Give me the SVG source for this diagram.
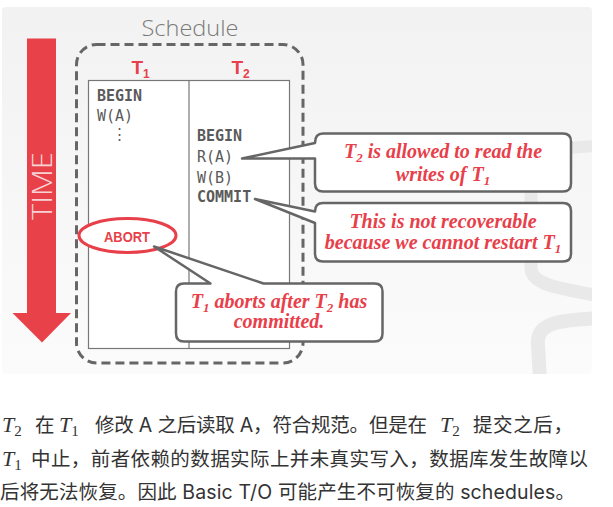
<svg xmlns="http://www.w3.org/2000/svg" width="613" height="507" viewBox="0 0 613 507">
<defs>
<linearGradient id="bg" x1="0" y1="0" x2="0" y2="1">
<stop offset="0" stop-color="#f2f2f2"/>
<stop offset="1" stop-color="#fbfbfb"/>
</linearGradient>
<clipPath id="slideclip"><rect x="2" y="7" width="590" height="367" rx="4"/></clipPath>
<style>
.mono{font-family:"DejaVu Sans Mono","Liberation Mono",monospace;font-size:15px;fill:#5a5a5a}
.b{font-weight:bold}
.tl{font-family:"Liberation Sans",Arial,sans-serif;font-weight:bold;fill:#e8404a}
.call{fill:#ffffff;stroke:#666666;stroke-width:2.5;stroke-linejoin:round}
.ct{font-family:"Liberation Serif","Times New Roman",serif;font-weight:bold;font-style:italic;font-size:20px;fill:#e8404a;text-anchor:middle}
.cjk{font-family:Inter,"Noto Sans CJK SC",sans-serif;font-size:19.5px;fill:#333333}
.math{font-family:"Liberation Serif","Times New Roman",serif;font-style:italic;font-size:22px;fill:#333333}
.msub{font-style:normal;font-size:15px}
</style>
</defs>
<rect x="0" y="0" width="613" height="507" fill="#ffffff"/>
<g id="slide">
<rect x="2" y="7" width="590" height="367" rx="4" fill="url(#bg)"/>
<g clip-path="url(#slideclip)" fill="none" stroke="#e9e9e9">
<path d="M 498 166 C 530 152 565 147 600 146" stroke-width="12"/>
<path d="M 531 192 L 531 268 C 531 284 556 288 600 296" stroke-width="13"/>
<path d="M 600 318 C 560 320 536 322 538 345 L 540 380" stroke-width="14"/>
</g>
</g>
<g id="time-arrow">
<path d="M 27 38.5 H 56 V 313 H 71 L 42 342.5 L 12.5 313 H 27 Z" fill="#e8414a"/>
<text transform="translate(51.5,220) rotate(-90)" font-family="'Open Sans','Liberation Sans',sans-serif" font-weight="300" font-size="28" fill="#f6d2d4" textLength="68" lengthAdjust="spacingAndGlyphs">TIME</text>
</g>
<g id="schedule">
<text x="190" y="36" text-anchor="middle" font-family="'Open Sans','Liberation Sans',sans-serif" font-weight="300" font-size="22" fill="#7a7a7a" textLength="97" lengthAdjust="spacingAndGlyphs">Schedule</text>
<rect x="76.5" y="44.5" width="226.5" height="318.5" rx="20" fill="none" stroke="#666666" stroke-width="3" stroke-dasharray="9 5"/>
</g>
<g id="table">
<rect x="88.5" y="80.5" width="201" height="268" fill="#ffffff" stroke="#777777" stroke-width="1.2"/>
<line x1="189" y1="80.5" x2="189" y2="348.5" stroke="#777777" stroke-width="1.2"/>
<text class="tl" x="131.5" y="74" font-size="19">T<tspan font-size="12" dy="4">1</tspan></text>
<text class="tl" x="231.5" y="74" font-size="19">T<tspan font-size="12" dy="4">2</tspan></text>
</g>
<g id="t1-ops">
<text class="mono b" x="97" y="101">BEGIN</text>
<text class="mono" x="97" y="121">W(A)</text>
<text class="mono" x="112" y="139">⋮</text>
</g>
<g id="t2-ops">
<text class="mono b" x="197" y="141">BEGIN</text>
<text class="mono" x="197" y="162">R(A)</text>
<text class="mono" x="197" y="182.5">W(B)</text>
<text class="mono b" x="197" y="202">COMMIT</text>
</g>
<g id="abort">
<ellipse cx="127.5" cy="235.5" rx="48.5" ry="17" fill="#ffffff" stroke="#e8404a" stroke-width="3"/>
<text x="104" y="242" font-family="'Liberation Sans',Arial,sans-serif" font-weight="bold" font-size="14" fill="#e8404a" textLength="46" lengthAdjust="spacingAndGlyphs">ABORT</text>
</g>
<g id="connectors">
<path class="call" d="M 323 133.5 H 563 Q 571 133.5 571 141.5 V 183.5 Q 571 191.5 563 191.5 H 323 Q 315 191.5 315 183.5 V 158.5 L 242 158.5 L 315 143 Q 315 133.5 323 133.5 Z"/>
<path class="call" d="M 323 203 H 563 Q 571 203 571 211 V 253.5 Q 571 261.5 563 261.5 H 323 Q 315 261.5 315 253.5 V 223 L 255 199 L 315 211.5 Q 315 203 323 203 Z"/>
<path class="call" d="M 184 283.5 H 210.5 L 154 246.5 L 263.5 283.5 H 374.5 Q 382.5 283.5 382.5 291.5 V 333.5 Q 382.5 341.5 374.5 341.5 H 184 Q 176 341.5 176 333.5 V 291.5 Q 176 283.5 184 283.5 Z"/>
</g>
<g id="callout-read">
<text class="ct" x="443" y="158">T<tspan font-size="13" dy="4">2</tspan><tspan dy="-4"> is allowed to read the</tspan></text>
<text class="ct" x="443" y="181">writes of T<tspan font-size="13" dy="4">1</tspan></text>
</g>
<g id="callout-recover">
<text class="ct" x="443" y="228">This is not recoverable</text>
<text class="ct" x="443" y="249">because we cannot restart T<tspan font-size="13" dy="4">1</tspan></text>
</g>
<g id="callout-abort">
<text class="ct" x="279" y="308">T<tspan font-size="13" dy="4">1</tspan><tspan dy="-4"> aborts after T</tspan><tspan font-size="13" dy="4">2</tspan><tspan dy="-4"> has</tspan></text>
<text class="ct" x="279" y="328">committed.</text>
</g>
<g id="caption">
<text class="math" x="2" y="432">T<tspan class="msub" dy="4">2</tspan></text>
<text class="cjk" x="35" y="432">在</text>
<text class="math" x="59" y="432">T<tspan class="msub" dy="4">1</tspan></text>
<text class="cjk" x="95" y="432" textLength="332" lengthAdjust="spacing">修改 A 之后读取 A，符合规范。但是在</text>
<text class="math" x="440" y="432">T<tspan class="msub" dy="4">2</tspan></text>
<text class="cjk" x="473" y="432" textLength="100" lengthAdjust="spacing">提交之后，</text>
<text class="math" x="2" y="465.5">T<tspan class="msub" dy="4">1</tspan></text>
<text class="cjk" x="31" y="465.5" textLength="557" lengthAdjust="spacing">中止，前者依赖的数据实际上并未真实写入，数据库发生故障以</text>
<text class="cjk" x="0" y="498.5" textLength="575" lengthAdjust="spacing">后将无法恢复。因此 Basic T/O 可能产生不可恢复的 schedules。</text>
</g>
</svg>
